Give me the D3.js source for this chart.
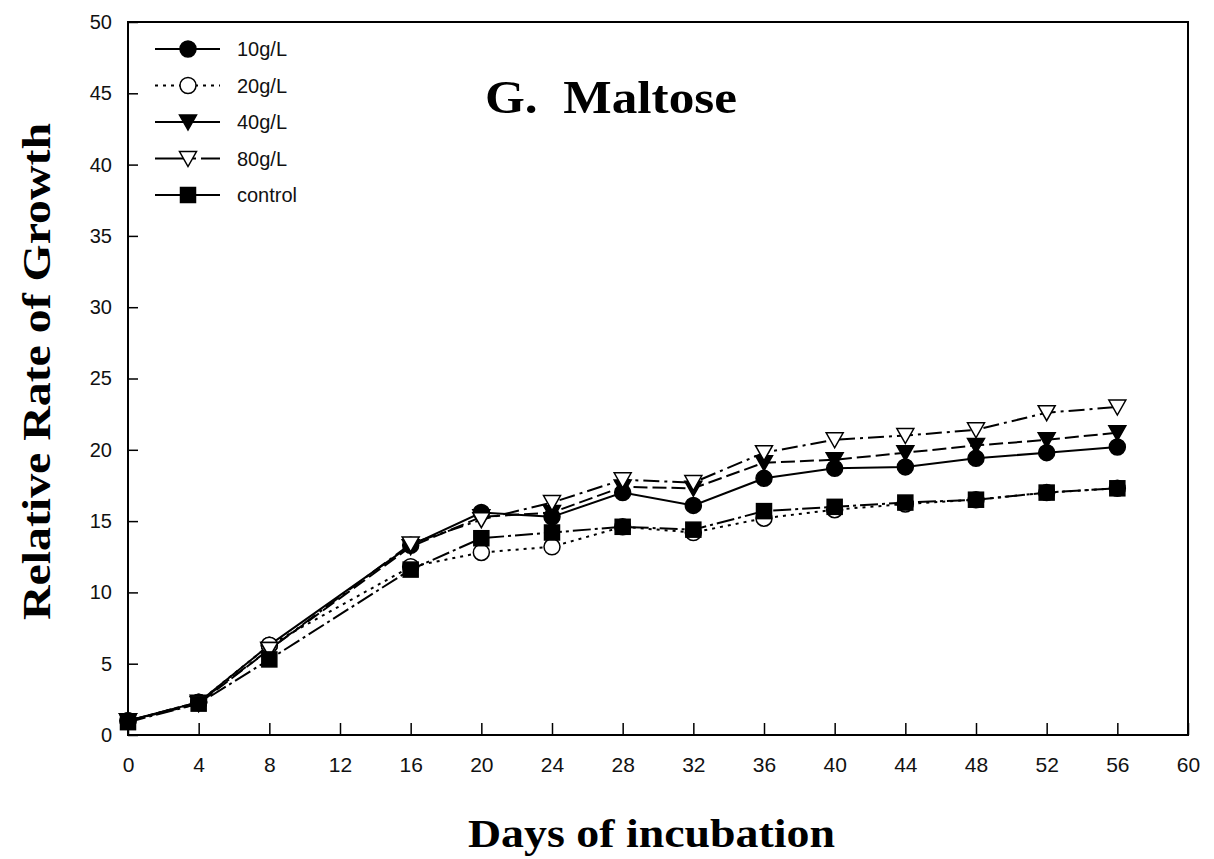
<!DOCTYPE html>
<html>
<head>
<meta charset="utf-8">
<script src="https://cdn.jsdelivr.net/npm/d3@7"></script>
<style>
  body { margin: 0; background: #fff; }
  svg { display: block; }
</style>
</head>
<body>
<script>
// data
var days = [0, 4, 8, 16, 20, 24, 28, 32, 36, 40, 44, 48, 52, 56];
var g10 = [1.0, 2.3, 6.3, 13.3, 15.6, 15.3, 17.0, 16.1, 18.0, 18.7, 18.8, 19.4, 19.8, 20.2];
var g20 = [1.0, 2.3, 6.3, 11.8, 12.8, 13.2, 14.6, 14.2, 15.2, 15.8, 16.2, 16.5, 17.0, 17.3];
var g40 = [1.0, 2.2, 6.0, 13.2, 15.3, 15.6, 17.4, 17.3, 19.1, 19.3, 19.8, 20.3, 20.7, 21.2];
var g80 = [1.0, 2.3, 6.0, 13.4, 15.1, 16.3, 17.9, 17.7, 19.8, 20.7, 21.0, 21.4, 22.6, 23.0];
var control = [0.9, 2.2, 5.3, 11.6, 13.8, 14.2, 14.6, 14.4, 15.7, 16.0, 16.3, 16.5, 17.0, 17.3];
var seriesNames = ["10g/L", "20g/L", "40g/L", "80g/L", "control"];
var xTicks = d3.range(0, 61, 4);
var yTicks = d3.range(0, 51, 5);

var series = [
  {name: seriesNames[0], values: g10, marker: "circle", fill: "#000", dash: null},
  {name: seriesNames[1], values: g20, marker: "circle", fill: "#fff", dash: "3,5"},
  {name: seriesNames[2], values: g40, marker: "tri", fill: "#000", dash: "14,5"},
  {name: seriesNames[3], values: g80, marker: "tri", fill: "#fff", dash: "16,5,3,5"},
  {name: seriesNames[4], values: control, marker: "square", fill: "#000", dash: "18,4,3,4"}
];

var width = 1214, height = 859;
var margin = {top: 22, right: 26, bottom: 124, left: 128};
var w = width - margin.left - margin.right,
    h = height - margin.top - margin.bottom;

var x = d3.scaleLinear().domain([0, 60]).range([0, w]);
var y = d3.scaleLinear().domain([0, 50]).range([h, 0]);

var svg = d3.select("body").append("svg")
    .attr("width", width)
    .attr("height", height);

var g = svg.append("g")
    .attr("transform", "translate(" + margin.left + "," + margin.top + ")");

// frame
g.append("rect")
    .attr("width", w).attr("height", h)
    .style("fill", "none").style("stroke", "#000").style("stroke-width", 2);

// x axis, ticks inside
var xAxis = g.append("g")
    .attr("transform", "translate(0," + h + ")")
    .call(d3.axisBottom(x).tickValues(xTicks).tickSizeInner(-12).tickSizeOuter(0).tickPadding(22));
xAxis.select(".domain").remove();
xAxis.selectAll("line").style("stroke", "#000").style("stroke-width", 1.5);
xAxis.selectAll("text")
    .style("font-family", "Liberation Sans, Arial, sans-serif")
    .style("font-size", "21px")
    .style("fill", "#111");

// y axis, ticks inside
var yAxis = g.append("g")
    .call(d3.axisLeft(y).tickValues(yTicks).tickSizeInner(-10).tickSizeOuter(0).tickPadding(16));
yAxis.select(".domain").remove();
yAxis.selectAll("line").style("stroke", "#000").style("stroke-width", 1.5);
yAxis.selectAll("text")
    .style("font-family", "Liberation Sans, Arial, sans-serif")
    .style("font-size", "20px")
    .style("fill", "#111");

// marker drawing helper
function drawMarker(sel, type, fill) {
  if (type === "circle") {
    sel.append("circle").attr("r", 8);
  } else if (type === "square") {
    sel.append("rect").attr("x", -7.5).attr("y", -7.5).attr("width", 15).attr("height", 15);
  } else {
    sel.append("path").attr("d", "M-8.5,-7 L8.5,-7 L0,8 Z");
  }
  sel.selectAll("circle,rect,path")
      .style("fill", fill).style("stroke", "#000").style("stroke-width", 1.5);
}

var line = d3.line()
    .x(function(d) { return x(d[0]); })
    .y(function(d) { return y(d[1]); });

series.forEach(function(s) {
  var pts = days.map(function(d, i) { return [d, s.values[i]]; });
  g.append("path")
      .datum(pts)
      .attr("d", line)
      .style("fill", "none")
      .style("stroke", "#000")
      .style("stroke-width", 2)
      .style("stroke-dasharray", s.dash);
});

series.forEach(function(s) {
  var pts = days.map(function(d, i) { return [d, s.values[i]]; });
  g.selectAll(null)
      .data(pts)
      .enter()
      .append("g")
      .attr("transform", function(d) { return "translate(" + x(d[0]) + "," + y(d[1]) + ")"; })
      .each(function() { drawMarker(d3.select(this), s.marker, s.fill); });
});

// legend
var legend = svg.append("g").attr("transform", "translate(155,49)");
series.forEach(function(s, i) {
  var row = legend.append("g").attr("transform", "translate(0," + (i * 36.5) + ")");
  row.append("line")
      .attr("x1", 0).attr("x2", 65)
      .style("stroke", "#000").style("stroke-width", 2)
      .style("stroke-dasharray", s.dash === "3,5" ? "3,5" : (s.dash === "16,5,3,5" ? "30,8,3,5" : null));
  var m = row.append("g").attr("transform", "translate(33,0)");
  drawMarker(m, s.marker, s.fill);
  row.append("text")
      .attr("x", 82).attr("y", 7)
      .style("font-family", "Liberation Sans, Arial, sans-serif")
      .style("font-size", "20px")
      .style("fill", "#111")
      .text(s.name);
});

// title inside plot
svg.append("text")
    .attr("x", 485).attr("y", 113)
    .attr("textLength", 252)
    .attr("lengthAdjust", "spacingAndGlyphs")
    .style("font-family", "Liberation Serif, Times New Roman, serif")
    .style("font-weight", "bold")
    .style("font-size", "46px")
    .style("white-space", "pre")
    .text("G.  Maltose");

// axis labels
svg.append("text")
    .attr("x", 468).attr("y", 847)
    .attr("textLength", 367)
    .attr("lengthAdjust", "spacingAndGlyphs")
    .style("font-family", "Liberation Serif, Times New Roman, serif")
    .style("font-weight", "bold")
    .style("font-size", "41px")
    .text("Days of incubation");

svg.append("text")
    .attr("transform", "translate(50,620) rotate(-90)")
    .attr("textLength", 497)
    .attr("lengthAdjust", "spacingAndGlyphs")
    .style("font-family", "Liberation Serif, Times New Roman, serif")
    .style("font-weight", "bold")
    .style("font-size", "41px")
    .text("Relative Rate of Growth");
</script>
</body>
</html>
